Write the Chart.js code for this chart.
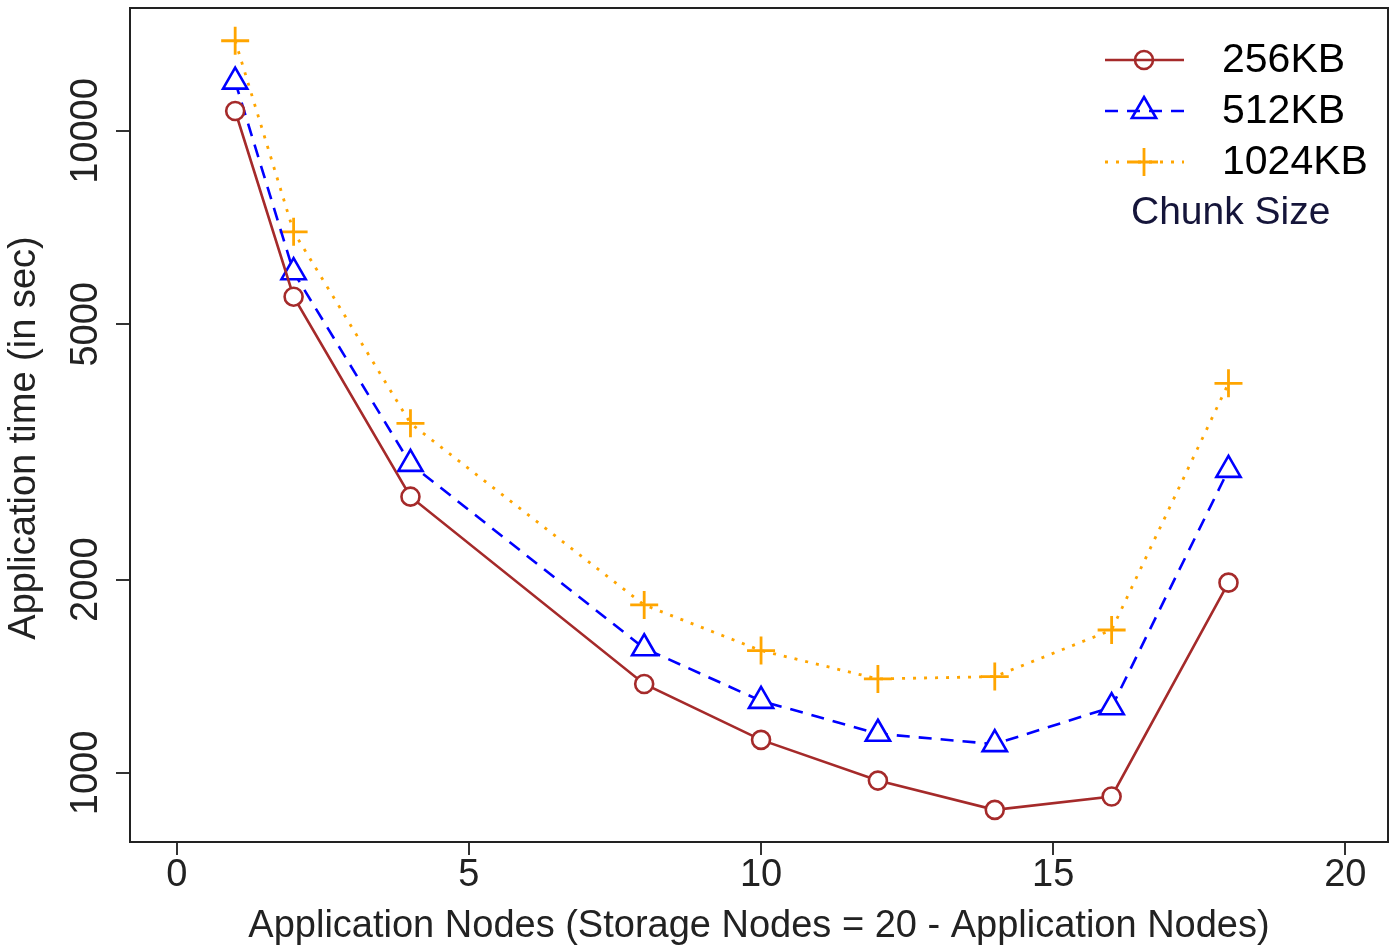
<!DOCTYPE html>
<html>
<head>
<meta charset="utf-8">
<script src="https://cdn.jsdelivr.net/npm/chart.js@4.4.1/dist/chart.umd.min.js"></script>
<style>
  html, body { margin: 0; padding: 0; background: #fff; }
  #wrap { width: 1391px; height: 949px; }
</style>
</head>
<body>
<div id="wrap"><canvas id="chart" width="1391" height="949"></canvas></div>
<script>
// values (log y axis)
const nodes = [1, 2, 4, 8, 10, 12, 14, 16, 18];
const time256 = [10745, 5520, 2694, 1376, 1126, 973, 876, 919, 1979];
const time512 = [11938, 6027, 3030, 1564, 1295, 1151, 1109, 1266, 2966];
const time1024 = [13824, 6967, 3505, 1827, 1551, 1401, 1413, 1670, 4046];
const seriesNames = ["256KB", "512KB", "1024KB"];
const xTicks = [0, 5, 10, 15, 20];
const yTicks = [1000, 2000, 5000, 10000];
const yTitle = "Application time (in sec)";

const FONT = "'Liberation Sans', Arial, Helvetica, sans-serif";

function toPoints(values) {
  return nodes.map((n, i) => ({ x: n, y: values[i] }));
}

// frame around the plot, y title and the R-style legend in the top right corner
const frameAndLegend = {
  id: "frameAndLegend",
  afterDraw(chart) {
    const { ctx, chartArea: a } = chart;
    ctx.save();
    ctx.strokeStyle = "#222";
    ctx.lineWidth = 2;
    ctx.strokeRect(a.left, a.top, a.right - a.left, a.bottom - a.top);

    // y axis title (R centres it a bit lower than the chart area middle)
    ctx.save();
    ctx.translate(25, 438);
    ctx.rotate(-Math.PI / 2);
    ctx.fillStyle = "#222";
    ctx.font = "38px " + FONT;
    ctx.textAlign = "center";
    ctx.textBaseline = "middle";
    ctx.fillText(yTitle, 0, 0);
    ctx.restore();

    chart.data.datasets.forEach((ds, i) => {
      const y = 60 + i * 51;
      ctx.strokeStyle = ds.borderColor;
      ctx.lineWidth = ds.borderWidth;
      ctx.setLineDash(ds.borderDash || []);
      ctx.beginPath();
      ctx.moveTo(1105, y);
      ctx.lineTo(1184, y);
      ctx.stroke();
      ctx.setLineDash([]);
      ctx.fillStyle = "rgba(0,0,0,0)";
      ctx.lineWidth = ds.pointBorderWidth;
      Chart.helpers.drawPoint(ctx, {
        pointStyle: ds.pointStyle,
        radius: ds.pointRadius,
        rotation: 0,
        borderWidth: ds.pointBorderWidth
      }, 1144, y);

      ctx.fillStyle = "#000";
      ctx.font = "41px " + FONT;
      ctx.textBaseline = "middle";
      ctx.textAlign = "left";
      ctx.fillText(ds.label, 1222, y + 1);
    });

    ctx.fillStyle = "#15153a";
    ctx.font = "39px " + FONT;
    ctx.textBaseline = "middle";
    ctx.fillText("Chunk Size", 1131, 213);
    ctx.restore();
  }
};

const chart = new Chart(document.getElementById("chart"), {
  type: "line",
  data: {
    datasets: [
      {
        label: seriesNames[0],
        data: toPoints(time256),
        borderColor: "#a52a2a",
        borderWidth: 2.6,
        pointStyle: "circle",
        pointRadius: 9,
        pointBorderWidth: 2.6,
        pointBorderColor: "#a52a2a",
        pointBackgroundColor: "#fff"
      },
      {
        label: seriesNames[1],
        data: toPoints(time512),
        borderColor: "#0000ff",
        borderWidth: 2.6,
        borderDash: [13, 9],
        pointStyle: "triangle",
        pointRadius: 14,
        pointBorderWidth: 2.6,
        pointBorderColor: "#0000ff",
        pointBackgroundColor: "#fff"
      },
      {
        label: seriesNames[2],
        data: toPoints(time1024),
        borderColor: "#ffa500",
        borderWidth: 2.8,
        borderDash: [3, 8],
        pointStyle: "cross",
        pointRadius: 14,
        pointBorderWidth: 2.8,
        pointBorderColor: "#ffa500",
        pointBackgroundColor: "#fff"
      }
    ]
  },
  options: {
    responsive: false,
    animation: false,
    devicePixelRatio: 1,
    layout: { autoPadding: false, padding: { top: 8, right: 3, left: 0, bottom: 0 } },
    elements: { line: { tension: 0 } },
    plugins: {
      legend: { display: false },
      tooltip: { enabled: false }
    },
    scales: {
      x: {
        type: "linear",
        min: -0.8,
        max: 20.73,
        afterBuildTicks: (s) => { s.ticks = xTicks.map((v) => ({ value: v })); },
        afterFit: (s) => { s.height = 107; },
        border: { display: false },
        grid: { drawOnChartArea: false, drawTicks: true, tickLength: 13, tickColor: "#333", lineWidth: 2 },
        ticks: {
          autoSkip: false,
          maxRotation: 0,
          padding: 2,
          color: "#222",
          font: { family: FONT, size: 38, lineHeight: 1 },
          callback: (v) => String(v)
        },
        title: {
          display: true,
          text: "Application Nodes (Storage Nodes = 20 - Application Nodes)",
          color: "#222",
          font: { family: FONT, size: 38, lineHeight: 1.2 },
          padding: { top: 0, bottom: 0 }
        }
      },
      y: {
        type: "logarithmic",
        min: 780.6,
        max: 15547,
        afterBuildTicks: (s) => { s.ticks = yTicks.map((v) => ({ value: v })); },
        afterFit: (s) => { s.width = 130; },
        border: { display: false },
        grid: { drawOnChartArea: false, drawTicks: true, tickLength: 14, tickColor: "#333", lineWidth: 2 },
        ticks: {
          autoSkip: false,
          minRotation: 90,
          maxRotation: 90,
          crossAlign: "center",
          padding: -23,
          color: "#222",
          font: { family: FONT, size: 38, lineHeight: 1 },
          callback: (v) => String(v)
        },
        title: { display: false }
      }
    }
  },
  plugins: [frameAndLegend]
});
</script>
</body>
</html>
